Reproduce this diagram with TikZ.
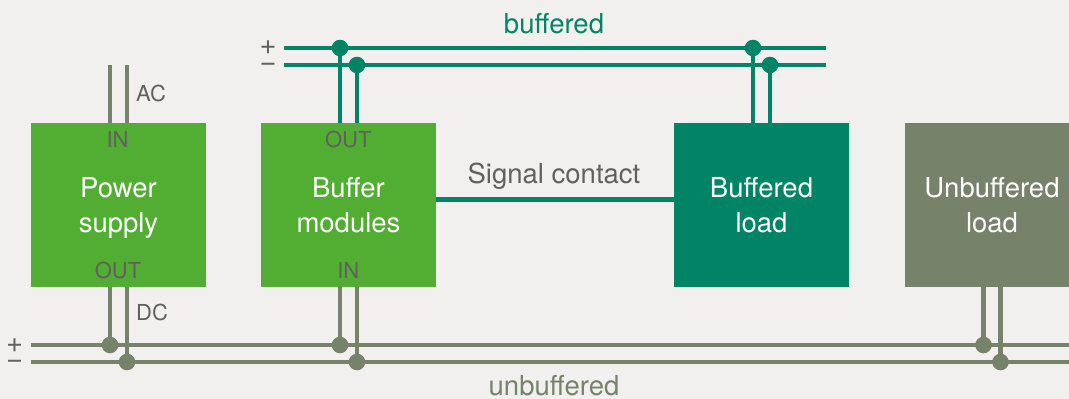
\documentclass[tikz,border=0pt]{standalone}
\usepackage{fontspec}
\setmainfont{TeX Gyre Heros}
\definecolor{bg}{RGB}{241,240,238}
\definecolor{lgreen}{RGB}{82,174,50}
\definecolor{teal}{RGB}{0,132,102}
\definecolor{ggreen}{RGB}{118,130,106}
\definecolor{tgray}{RGB}{96,96,96}
\tikzset{
  box/.style={inner sep=0pt, outer sep=0pt, minimum width=175pt, minimum height=164pt,
    text=white, align=center, font=\fontsize{27.5}{35}\selectfont, text depth=0pt},
  twire/.style={draw=teal, line width=4.6pt},
  gwire/.style={draw=ggreen, line width=4.6pt},
  tdot/.style={circle, fill=teal, inner sep=0pt, minimum size=16.6pt},
  gdot/.style={circle, fill=ggreen, inner sep=0pt, minimum size=16.6pt},
  lbl/.style={text=tgray, font=\fontsize{22}{26}\selectfont, inner sep=0pt},
  sign/.style={text=tgray, font=\fontsize{29}{16.7}\selectfont, inner sep=0pt, align=center, text depth=0pt},
  bigl/.style={font=\fontsize{27.5}{33}\selectfont, inner sep=0pt},
}
\begin{document}
\begin{tikzpicture}[x=1pt,y=-1pt]
\fill[bg] (0,0) rectangle (1069,399);
\useasboundingbox (0,0) rectangle (1069,399);
\begin{scope}
\clip (0,0) rectangle (1069,399);
% boxes
\node[box, fill=lgreen] (ps) at (118.5,205) {Power\\supply};
\node[box, fill=lgreen] (bm) at (348.5,205) {Buffer\\modules};
\node[box, fill=teal] (bl) at (761.5,205) {Buffered\\load};
\node[box, fill=ggreen] (ul) at (992,205) {Unbuffered\\load};

% bus coordinates
\coordinate (tp1) at (284,48);  \coordinate (tp2) at (826,48);
\coordinate (tm1) at (284,65);  \coordinate (tm2) at (826,65);
\coordinate (bp1) at (31,345);  \coordinate (bp2) at (1069,345);
\coordinate (bm1) at (31,362);  \coordinate (bm2) at (1069,362);

% buffered bus
\draw[twire] (tp1) -- (tp2);
\draw[twire] (tm1) -- (tm2);
% unbuffered bus
\draw[gwire] (bp1) -- (bp2);
\draw[gwire] (bm1) -- (bm2);

% AC input
\draw[gwire] ([xshift=-8.5pt]ps.north) -- ++(0,-58) coordinate (ac1);
\draw[gwire] ([xshift=8.5pt]ps.north) -- ++(0,-58) coordinate (ac2);

% power supply DC out
\draw[gwire] ([xshift=-8.5pt]ps.south) -- ([xshift=-8.5pt]ps.south |- bp1) node[gdot]{};
\draw[gwire] ([xshift=8.5pt]ps.south) -- ([xshift=8.5pt]ps.south |- bm1) node[gdot]{};

% buffer module in
\draw[gwire] ([xshift=-8.5pt]bm.south) -- ([xshift=-8.5pt]bm.south |- bp1) node[gdot]{};
\draw[gwire] ([xshift=8.5pt]bm.south) -- ([xshift=8.5pt]bm.south |- bm1) node[gdot]{};

% unbuffered load
\draw[gwire] ([xshift=-8.5pt]ul.south) -- ([xshift=-8.5pt]ul.south |- bp1) node[gdot]{};
\draw[gwire] ([xshift=8.5pt]ul.south) -- ([xshift=8.5pt]ul.south |- bm1) node[gdot]{};

% buffer module out
\draw[twire] ([xshift=-8.5pt]bm.north) -- ([xshift=-8.5pt]bm.north |- tp1) node[tdot]{};
\draw[twire] ([xshift=8.5pt]bm.north) -- ([xshift=8.5pt]bm.north |- tm1) node[tdot]{};

% buffered load
\draw[twire] ([xshift=-8.5pt]bl.north) -- ([xshift=-8.5pt]bl.north |- tp1) node[tdot]{};
\draw[twire] ([xshift=8.5pt]bl.north) -- ([xshift=8.5pt]bl.north |- tm1) node[tdot]{};

% signal contact
\draw[twire] ([yshift=5.7pt]bm.east) -- ([yshift=5.7pt]bl.west);
\end{scope}

% labels
\node[lbl, anchor=base west] (lac) at (136,101.7) {AC};
\node[lbl, anchor=base west] (ldc) at (136,320) {DC};
\node[lbl, anchor=base] (lpsin) at (117.5,147.7) {IN};
\node[lbl, anchor=base] (lpsout) at (118,278.3) {OUT};
\node[lbl, anchor=base] (lbmout) at (348.3,147.7) {OUT};
\node[lbl, anchor=base] (lbmin) at (348.3,278.3) {IN};
\node[sign] (ltop) at (268,56.3) {+\\\char"2212};
\node[sign] (lbot) at (14.7,353.5) {+\\\char"2212};
\node[bigl, text=teal, anchor=base] (lbuf) at (554,33) {buffered};
\node[bigl, text=tgray, anchor=base] (lsig) at (554,183.3) {Signal contact};
\node[bigl, text=ggreen, anchor=base] (lunbuf) at (554,395) {unbuffered};
\end{tikzpicture}
\end{document}
